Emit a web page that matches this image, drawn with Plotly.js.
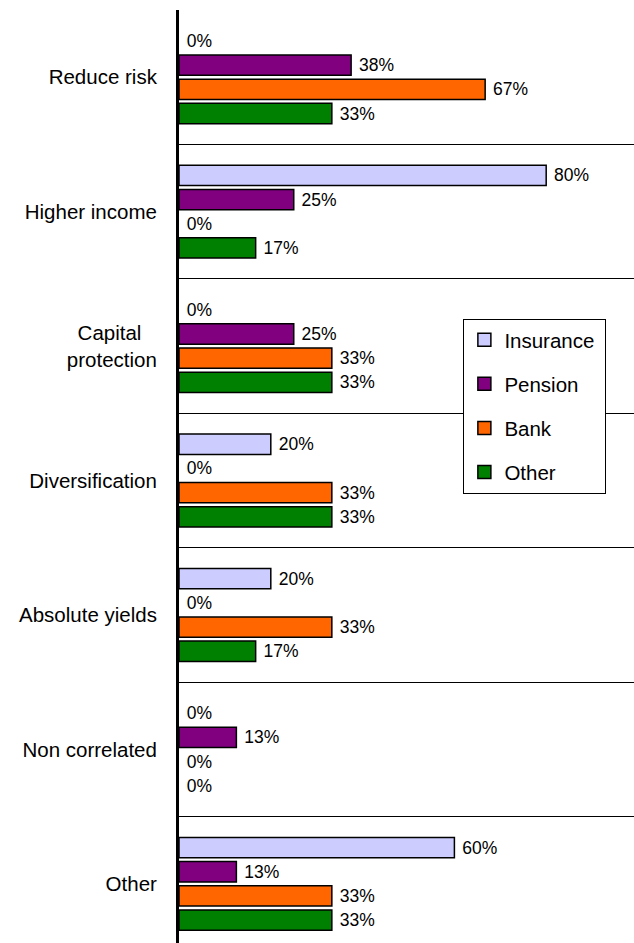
<!DOCTYPE html>
<html>
<head>
<meta charset="utf-8">
<script src="https://cdn.plot.ly/plotly-3.0.1.min.js"></script>
<style>html,body{margin:0;padding:0;background:#fff;}#chart{width:634px;height:943px;}</style>
</head>
<body>
<div id="chart"></div>
<script>
const categories = ["Reduce risk", "Higher income", "Capital\u00a0\u00a0\u2009<br>protection", "Diversification", "Absolute yields", "Non correlated", "Other"];
const insurance = [0, 0.8, 0, 0.2, 0.2, 0, 0.6];
const pension   = [0.375, 0.25, 0.25, 0, 0, 0.125, 0.125];
const bank      = [0.667, 0, 0.333, 0.333, 0.333, 0, 0.333];
const other     = [0.333, 0.167, 0.333, 0.333, 0.167, 0, 0.333];
const seriesNames = ["Insurance", "Pension", "Bank", "Other"];
const seriesColors = ["#CCCCFF", "#800080", "#FF6600", "#008000"];
const seriesValues = [insurance, pension, bank, other];

const FONT = '"Liberation Sans", Arial, sans-serif';

const barTraces = seriesValues.map((vals, i) => ({
  type: 'bar',
  orientation: 'h',
  name: seriesNames[i],
  legendgroup: seriesNames[i],
  showlegend: false,
  x: vals,
  y: categories,
  marker: {color: seriesColors[i], line: {color: '#000', width: vals.map(v => v === 0 ? 0 : 1.5)}},
  texttemplate: '\u00a0%{x:.0%}',
  textposition: 'outside',
  cliponaxis: false,
  textfont: {family: FONT, size: 17.5, color: '#000'},
  hoverinfo: 'skip'
}));

const legendTraces = seriesNames.map((name, i) => ({
  type: 'scatter',
  mode: 'markers',
  name: name + '\u00a0',
  legendgroup: name,
  showlegend: true,
  x: [null], y: [null],
  marker: {symbol: 'square', size: 13, color: seriesColors[i], line: {color: '#000', width: 1.5}},
  hoverinfo: 'skip'
}));

const layout = {
  width: 634, height: 943,
  margin: {l: 179, r: 0, t: 10, b: 0},
  paper_bgcolor: '#fff', plot_bgcolor: '#fff',
  font: {family: FONT, color: '#000'},
  barmode: 'group',
  bargap: 0.28,
  bargroupgap: 0.16,
  xaxis: {range: [0, 0.9913], showgrid: false, zeroline: false, showticklabels: false, ticks: '', showline: false},
  yaxis: {
    type: 'category', categoryorder: 'array', categoryarray: categories,
    range: [6.44, -0.5],
    tickson: 'boundaries', ticks: '', showgrid: true, gridcolor: '#000', gridwidth: 1,
    showline: true, linecolor: '#000', linewidth: 3, zeroline: false,
    tickfont: {family: FONT, size: 20.5, color: '#000'},
    ticklabelstandoff: 15
  },
  showlegend: true,
  legend: {
    x: 0.625, y: 0.669, xanchor: 'left', yanchor: 'top',
    bgcolor: '#fff', bordercolor: '#000', borderwidth: 1,
    font: {family: FONT, size: 20.5, color: '#000'},
    traceorder: 'grouped', tracegroupgap: 14.5
  }
};

Plotly.newPlot('chart', barTraces.concat(legendTraces), layout, {displayModeBar: false, staticPlot: true});
</script>
</body>
</html>
